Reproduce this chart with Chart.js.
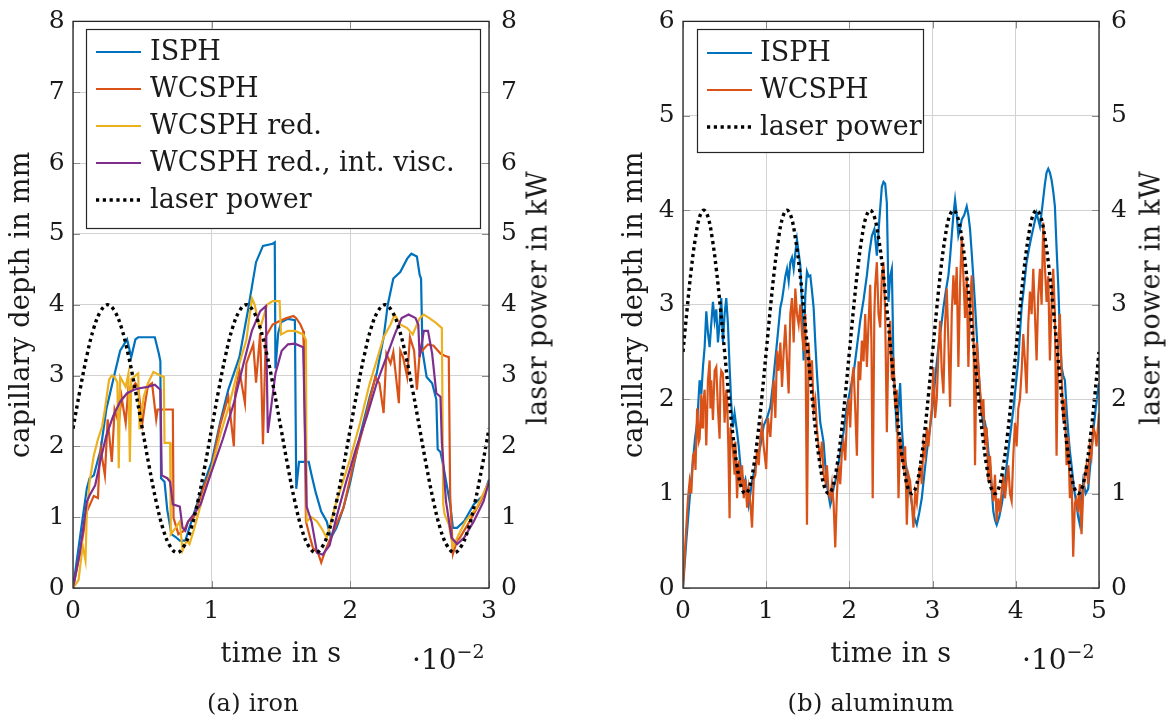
<!DOCTYPE html>
<html><head><meta charset="utf-8">
<script src="https://cdn.jsdelivr.net/npm/chart.js@4.4.1/dist/chart.umd.min.js"></script>
<style>
html,body{margin:0;padding:0;background:#fff;}
body{width:1174px;height:722px;position:relative;overflow:hidden;font-family:"DejaVu Serif",serif;color:#1a1a1a;}
.cv{position:absolute;top:0;height:722px;}
.txt{position:absolute;white-space:nowrap;letter-spacing:0.3px;font-size:27px;line-height:1;transform:translate(-50%,-50%);}
.rot{transform:translate(-50%,-50%) rotate(-90deg);}
.sc{position:absolute;white-space:nowrap;font-size:28px;line-height:1;}
.sc sup{font-size:19px;line-height:0;vertical-align:0.6em;}
</style></head><body>
<div class="cv" style="left:0;width:587px;"><canvas id="ca"></canvas></div>
<div class="cv" style="left:590px;width:584px;"><canvas id="cb"></canvas></div>
<div class="txt rot" style="left:537px;top:298px;">laser power in kW</div>
<div class="txt rot" style="left:1150px;top:298px;">laser power in kW</div>
<div class="sc" style="left:412px;top:646px;">·10<sup>−2</sup></div>
<div class="sc" style="left:1022px;top:646px;">·10<sup>−2</sup></div>
<div class="txt" style="left:253px;top:703px;font-size:24px;">(a) iron</div>
<div class="txt" style="left:871px;top:703px;font-size:24px;">(b) aluminum</div>
<script>
// ---------- data (time in 1e-2 s, depth in mm, power in kW) ----------
const seriesNames = ['ISPH', 'WCSPH', 'WCSPH red.', 'WCSPH red., int. visc.', 'laser power'];
const ironTicksX = [0, 1, 2, 3];
const alTicksX = [0, 1, 2, 3, 4, 5];

const ironISPH = [[0,0],[0.05,0.71],[0.1,1.41],[0.12,1.55],[0.15,1.59],[0.2,1.96],[0.24,2.52],[0.29,2.94],[0.34,3.35],[0.39,3.51],[0.42,3.26],[0.45,3.51],[0.47,3.54],[0.59,3.54],[0.62,3.3],[0.63,3.2],[0.635,1.55],[0.66,1.5],[0.68,1.1],[0.71,0.76],[0.74,0.72],[0.77,0.67],[0.81,0.67],[0.87,1.04],[0.94,1.45],[1.0,1.78],[1.06,2.33],[1.12,2.8],[1.2,3.26],[1.26,3.9],[1.32,4.6],[1.37,4.83],[1.44,4.86],[1.455,4.88],[1.46,3.1],[1.48,3.6],[1.5,3.75],[1.55,3.8],[1.6,3.78],[1.61,1.4],[1.63,1.78],[1.7,1.78],[1.72,1.6],[1.75,1.35],[1.79,1.08],[1.83,0.94],[1.86,0.71],[1.9,0.85],[1.95,1.13],[2.0,1.5],[2.07,2.15],[2.14,2.7],[2.19,3.03],[2.24,3.54],[2.27,4.0],[2.31,4.37],[2.36,4.46],[2.41,4.65],[2.44,4.72],[2.48,4.68],[2.5,4.42],[2.51,4.37],[2.52,3.35],[2.55,2.98],[2.59,2.89],[2.62,2.66],[2.63,1.96],[2.65,1.92],[2.67,1.73],[2.72,1.18],[2.74,0.85],[2.77,0.85],[2.82,0.94],[2.89,1.18],[2.96,1.31],[3.0,1.53]];

const ironWCSPH = [[0,0],[0.05,0.48],[0.1,1.08],[0.15,1.3],[0.18,1.27],[0.19,1.75],[0.2,1.96],[0.23,1.59],[0.25,2.38],[0.28,1.78],[0.3,2.52],[0.33,2.33],[0.35,2.7],[0.38,2.33],[0.4,2.84],[0.42,2.8],[0.45,2.89],[0.47,2.84],[0.5,2.33],[0.52,2.61],[0.54,2.85],[0.57,2.89],[0.6,2.38],[0.61,2.52],[0.65,2.52],[0.72,2.52],[0.725,0.99],[0.76,0.76],[0.8,0.81],[0.83,0.94],[0.87,0.99],[0.94,1.41],[1.0,1.69],[1.06,2.29],[1.12,2.7],[1.16,2.0],[1.17,2.75],[1.2,3.07],[1.24,2.61],[1.25,3.17],[1.3,3.44],[1.32,2.9],[1.35,3.6],[1.37,2.03],[1.39,3.55],[1.44,3.72],[1.49,3.77],[1.54,3.81],[1.59,3.84],[1.61,3.81],[1.64,3.72],[1.66,3.63],[1.665,3.35],[1.68,0.94],[1.71,0.71],[1.73,0.57],[1.77,0.48],[1.79,0.36],[1.82,0.53],[1.85,0.67],[1.95,1.13],[2.02,1.73],[2.09,2.24],[2.14,2.65],[2.18,2.98],[2.21,2.89],[2.24,2.47],[2.26,3.31],[2.29,3.17],[2.31,3.33],[2.35,2.61],[2.36,3.35],[2.38,3.26],[2.41,2.98],[2.43,3.54],[2.46,3.35],[2.48,2.8],[2.5,3.31],[2.54,3.4],[2.56,3.44],[2.6,3.42],[2.65,3.31],[2.68,3.28],[2.71,3.26],[2.72,1.31],[2.74,0.48],[2.77,0.67],[2.79,0.71],[2.86,0.94],[2.94,1.22],[3.0,1.5]];

const ironWCSPHred = [[0,0],[0.04,0.11],[0.07,0.6],[0.09,0.39],[0.1,1.08],[0.12,1.5],[0.15,1.87],[0.18,2.1],[0.21,2.28],[0.23,2.52],[0.26,2.94],[0.28,3.0],[0.3,2.98],[0.32,2.9],[0.33,1.69],[0.34,2.98],[0.38,2.84],[0.4,3.03],[0.41,1.78],[0.42,2.95],[0.44,2.98],[0.47,3.03],[0.48,2.24],[0.51,2.7],[0.54,2.89],[0.58,3.05],[0.63,3.0],[0.655,2.98],[0.66,2.05],[0.7,2.05],[0.705,0.76],[0.74,0.85],[0.77,0.94],[0.79,0.53],[0.82,0.67],[0.84,0.62],[0.87,0.81],[0.94,1.31],[1.0,1.69],[1.06,2.15],[1.13,2.61],[1.2,3.17],[1.25,3.5],[1.29,4.09],[1.31,4.0],[1.34,3.72],[1.35,3.67],[1.4,4.0],[1.44,4.05],[1.49,4.05],[1.5,3.58],[1.55,3.63],[1.6,3.63],[1.66,3.58],[1.68,3.5],[1.685,0.94],[1.72,1.0],[1.76,0.94],[1.79,0.85],[1.83,0.71],[1.9,1.22],[2.0,1.83],[2.07,2.33],[2.14,2.89],[2.19,3.21],[2.24,3.54],[2.29,3.72],[2.32,3.86],[2.36,3.72],[2.41,3.67],[2.45,3.58],[2.5,3.81],[2.53,3.86],[2.57,3.81],[2.62,3.74],[2.66,3.67],[2.67,1.18],[2.68,1.04],[2.71,0.9],[2.74,0.57],[2.78,0.75],[2.83,0.94],[2.91,1.13],[3.0,1.5]];

const ironWCSPHvisc = [[0,0],[0.05,0.51],[0.1,1.22],[0.12,1.31],[0.16,1.45],[0.2,1.82],[0.24,2.15],[0.29,2.43],[0.34,2.63],[0.39,2.75],[0.44,2.8],[0.48,2.82],[0.54,2.84],[0.59,2.87],[0.63,2.8],[0.64,1.59],[0.68,1.55],[0.7,1.5],[0.72,1.18],[0.77,1.15],[0.79,0.85],[0.81,0.81],[0.83,0.94],[0.87,1.04],[0.92,1.18],[0.99,1.59],[1.08,2.1],[1.16,2.61],[1.23,3.17],[1.29,3.63],[1.35,3.91],[1.39,3.98],[1.405,2.19],[1.46,3.03],[1.505,3.35],[1.55,3.44],[1.6,3.45],[1.66,3.4],[1.685,1.15],[1.72,0.94],[1.76,0.5],[1.8,0.47],[1.85,0.6],[1.9,1.0],[1.97,1.5],[2.04,1.96],[2.12,2.43],[2.19,2.89],[2.26,3.26],[2.32,3.58],[2.37,3.81],[2.42,3.86],[2.47,3.81],[2.49,3.72],[2.5,3.26],[2.53,3.63],[2.56,3.63],[2.59,3.31],[2.62,2.75],[2.65,2.7],[2.66,2.06],[2.69,1.22],[2.73,0.71],[2.77,0.62],[2.82,0.71],[2.89,0.94],[2.96,1.22],[3.0,1.5]];

// laser power sampled every 0.05e-2 s
const ironLaserStep = 0.05;
const ironLaser = [2.25,2.79,3.28,3.67,3.91,4.0,3.91,3.67,3.28,2.79,2.25,1.71,1.22,0.83,0.59,0.5,0.59,0.83,1.22,1.71,
 2.25,2.79,3.28,3.67,3.91,4.0,3.91,3.67,3.28,2.79,2.25,1.71,1.22,0.83,0.59,0.5,0.59,0.83,1.22,1.71,
 2.25,2.79,3.28,3.67,3.91,4.0,3.91,3.67,3.28,2.79,2.25,1.71,1.22,0.83,0.59,0.5,0.59,0.83,1.22,1.71,2.25];

const alISPH = [[0,0],[0.04,0.5],[0.084,0.99],[0.11,1.25],[0.144,1.58],[0.17,1.75],[0.2,2.2],[0.22,2.05],[0.24,2.34],[0.26,2.55],[0.28,2.93],[0.3,2.7],[0.32,2.55],[0.34,2.8],[0.36,3.03],[0.38,2.83],[0.4,2.95],[0.42,2.6],[0.44,2.8],[0.46,3.07],[0.48,2.6],[0.5,2.9],[0.52,3.07],[0.54,2.8],[0.56,2.34],[0.58,1.95],[0.6,1.7],[0.62,1.85],[0.65,1.65],[0.67,1.5],[0.69,1.3],[0.71,1.2],[0.73,1.09],[0.75,1.15],[0.77,1.02],[0.79,0.88],[0.81,1.0],[0.83,1.13],[0.86,1.25],[0.89,1.37],[0.93,1.5],[0.97,1.72],[1.01,1.8],[1.05,1.92],[1.08,2.15],[1.1,2.34],[1.13,2.6],[1.17,2.97],[1.19,3.05],[1.21,3.17],[1.23,3.3],[1.25,3.38],[1.27,3.25],[1.29,3.45],[1.31,3.5],[1.33,3.38],[1.35,3.55],[1.37,3.69],[1.39,3.55],[1.41,3.42],[1.43,3.0],[1.45,2.41],[1.47,3.1],[1.49,3.35],[1.51,3.3],[1.53,3.31],[1.55,3.15],[1.57,2.97],[1.59,2.6],[1.61,2.27],[1.63,2.0],[1.65,1.75],[1.67,1.65],[1.69,1.54],[1.71,1.3],[1.73,1.09],[1.75,0.98],[1.77,0.88],[1.79,0.95],[1.81,1.06],[1.85,1.2],[1.89,1.44],[1.93,1.65],[1.97,1.92],[2.01,2.1],[2.05,2.27],[2.09,2.55],[2.13,2.83],[2.17,3.05],[2.21,3.31],[2.24,3.55],[2.27,3.73],[2.3,3.8],[2.33,3.52],[2.36,3.9],[2.39,4.25],[2.41,4.3],[2.43,4.28],[2.45,4.08],[2.46,3.6],[2.47,3.03],[2.49,3.3],[2.51,3.38],[2.52,2.9],[2.53,2.34],[2.55,2.0],[2.57,1.65],[2.59,1.9],[2.61,2.17],[2.63,1.7],[2.65,1.44],[2.68,1.3],[2.71,1.13],[2.74,0.95],[2.77,0.78],[2.79,0.72],[2.81,0.67],[2.84,0.8],[2.87,0.95],[2.9,1.2],[2.93,1.44],[2.97,1.7],[3.01,2.0],[3.04,2.3],[3.07,2.55],[3.1,2.75],[3.13,2.97],[3.16,3.15],[3.19,3.31],[3.21,3.5],[3.23,3.73],[3.25,3.95],[3.27,4.11],[3.29,3.95],[3.31,3.73],[3.33,3.8],[3.35,3.9],[3.38,3.95],[3.41,4.04],[3.43,3.95],[3.45,3.8],[3.47,3.55],[3.49,3.28],[3.51,3.0],[3.53,2.69],[3.55,2.35],[3.57,2.06],[3.59,1.85],[3.61,1.72],[3.63,1.75],[3.65,1.65],[3.67,1.45],[3.69,1.3],[3.71,1.05],[3.73,0.81],[3.75,0.72],[3.77,0.67],[3.8,0.75],[3.83,0.88],[3.86,1.05],[3.89,1.3],[3.93,1.6],[3.97,1.89],[4.0,2.15],[4.03,2.41],[4.05,2.7],[4.07,2.97],[4.1,3.2],[4.13,3.45],[4.16,3.6],[4.19,3.73],[4.22,3.85],[4.25,3.97],[4.27,3.9],[4.29,3.83],[4.32,4.05],[4.35,4.28],[4.37,4.4],[4.39,4.44],[4.41,4.4],[4.43,4.32],[4.45,4.2],[4.47,4.04],[4.49,3.6],[4.51,3.21],[4.53,2.7],[4.55,2.34],[4.57,2.25],[4.59,2.2],[4.61,1.9],[4.63,1.65],[4.65,1.45],[4.67,1.3],[4.7,1.05],[4.73,0.88],[4.75,0.75],[4.77,0.67],[4.79,0.9],[4.81,1.13],[4.84,1.0],[4.87,1.05],[4.9,1.35],[4.93,1.65],[4.96,1.9],[5.0,2.17]];

const alWCSPH = [[0,0],[0.03,0.5],[0.06,0.95],[0.08,1.13],[0.1,1.0],[0.12,1.4],[0.14,1.44],[0.15,1.25],[0.17,1.9],[0.19,1.55],[0.2,1.58],[0.22,2.05],[0.23,1.7],[0.24,1.92],[0.26,2.1],[0.28,1.51],[0.3,2.2],[0.32,2.41],[0.33,1.9],[0.34,2.2],[0.36,1.78],[0.38,2.3],[0.4,2.34],[0.42,1.9],[0.44,1.58],[0.45,2.2],[0.46,2.3],[0.48,2.27],[0.5,1.75],[0.52,2.1],[0.53,2.0],[0.545,1.5],[0.56,0.74],[0.57,1.7],[0.58,1.6],[0.6,1.47],[0.62,1.2],[0.63,1.55],[0.65,0.95],[0.67,1.35],[0.69,1.1],[0.71,1.3],[0.73,0.95],[0.75,1.15],[0.77,0.85],[0.79,1.05],[0.81,0.9],[0.83,0.64],[0.85,1.15],[0.87,1.2],[0.89,1.47],[0.91,1.3],[0.93,1.6],[0.95,1.72],[0.97,1.5],[1.0,1.26],[1.02,1.8],[1.05,1.6],[1.07,1.92],[1.09,2.2],[1.11,1.8],[1.13,2.51],[1.15,2.3],[1.17,2.6],[1.19,2.13],[1.21,2.5],[1.23,2.79],[1.25,2.4],[1.27,2.06],[1.29,2.9],[1.31,3.07],[1.33,2.6],[1.35,3.17],[1.37,2.9],[1.39,2.79],[1.41,3.0],[1.43,2.7],[1.45,2.51],[1.47,2.9],[1.49,0.67],[1.51,2.6],[1.53,2.2],[1.55,2.41],[1.57,1.9],[1.59,2.0],[1.61,1.68],[1.63,1.5],[1.65,1.37],[1.67,1.55],[1.69,1.2],[1.71,1.13],[1.73,1.3],[1.75,1.0],[1.77,0.95],[1.79,1.1],[1.81,0.9],[1.83,0.43],[1.85,1.0],[1.87,1.3],[1.89,1.1],[1.91,1.45],[1.93,1.54],[1.95,1.35],[1.97,1.8],[1.99,2.0],[2.01,1.7],[2.03,2.2],[2.05,2.34],[2.07,1.9],[2.09,1.4],[2.11,2.4],[2.13,2.2],[2.15,2.62],[2.17,2.4],[2.19,2.9],[2.21,2.34],[2.23,2.8],[2.25,3.21],[2.265,2.6],[2.28,0.95],[2.3,2.9],[2.31,3.2],[2.33,3.45],[2.35,2.9],[2.37,2.76],[2.39,3.3],[2.41,3.45],[2.43,2.9],[2.45,1.65],[2.47,2.6],[2.49,2.83],[2.51,2.2],[2.53,2.44],[2.55,1.9],[2.57,2.1],[2.59,0.95],[2.61,1.6],[2.63,1.4],[2.65,1.3],[2.67,1.5],[2.69,0.67],[2.71,1.2],[2.73,1.13],[2.75,0.9],[2.77,0.64],[2.79,1.0],[2.81,0.9],[2.83,1.13],[2.85,1.3],[2.87,1.1],[2.89,1.51],[2.91,1.4],[2.93,1.7],[2.95,1.5],[2.97,1.72],[2.99,1.9],[3.01,2.34],[3.03,1.8],[3.05,2.0],[3.07,2.5],[3.09,2.83],[3.11,2.3],[3.13,2.06],[3.15,2.8],[3.17,3.17],[3.19,2.6],[3.21,1.92],[3.23,2.9],[3.25,3.31],[3.27,3.0],[3.29,3.4],[3.31,2.34],[3.33,3.2],[3.35,3.73],[3.37,3.3],[3.39,2.86],[3.41,3.3],[3.43,2.34],[3.45,3.0],[3.47,3.31],[3.49,2.8],[3.51,1.3],[3.53,2.6],[3.55,2.34],[3.57,2.1],[3.59,1.82],[3.61,2.0],[3.63,1.51],[3.65,1.7],[3.67,1.13],[3.69,1.4],[3.71,1.1],[3.73,0.92],[3.75,1.2],[3.77,0.7],[3.79,0.95],[3.81,0.8],[3.83,1.02],[3.85,1.2],[3.87,0.95],[3.89,1.13],[3.91,1.3],[3.93,1.0],[3.95,0.92],[3.97,1.4],[3.99,1.75],[4.01,1.5],[4.03,1.9],[4.05,2.0],[4.07,2.3],[4.09,2.69],[4.11,2.4],[4.13,2.06],[4.15,2.8],[4.17,3.14],[4.19,2.9],[4.21,3.38],[4.23,2.9],[4.25,2.41],[4.27,3.1],[4.29,3.38],[4.31,3.0],[4.33,3.87],[4.35,3.4],[4.37,3.03],[4.39,3.3],[4.41,2.41],[4.43,3.0],[4.45,3.38],[4.47,2.9],[4.49,1.4],[4.51,2.6],[4.53,2.9],[4.55,2.3],[4.57,1.78],[4.59,2.0],[4.61,1.3],[4.63,1.6],[4.65,0.95],[4.67,1.2],[4.69,0.33],[4.71,0.9],[4.73,0.95],[4.75,0.8],[4.77,1.1],[4.79,0.57],[4.81,1.0],[4.83,1.2],[4.85,1.3],[4.87,1.1],[4.89,1.5],[4.91,1.4],[4.93,1.7],[4.95,1.65],[4.97,1.5],[5.0,1.85]];

const alLaserStep = 0.05;
const alLaser = [2.5,2.96,3.38,3.71,3.93,4.0,3.93,3.71,3.38,2.96,2.5,2.04,1.62,1.29,1.07,1.0,1.07,1.29,1.62,2.04,
 2.5,2.96,3.38,3.71,3.93,4.0,3.93,3.71,3.38,2.96,2.5,2.04,1.62,1.29,1.07,1.0,1.07,1.29,1.62,2.04,
 2.5,2.96,3.38,3.71,3.93,4.0,3.93,3.71,3.38,2.96,2.5,2.04,1.62,1.29,1.07,1.0,1.07,1.29,1.62,2.04,
 2.5,2.96,3.38,3.71,3.93,4.0,3.93,3.71,3.38,2.96,2.5,2.04,1.62,1.29,1.07,1.0,1.07,1.29,1.62,2.04,
 2.5,2.96,3.38,3.71,3.93,4.0,3.93,3.71,3.38,2.96,2.5,2.04,1.62,1.29,1.07,1.0,1.07,1.29,1.62,2.04,2.5];

const colors = ['#0072BD', '#D95319', '#EDB120', '#7E2F8E', '#000000'];

// ---------- helpers ----------
const FONT = '"DejaVu Serif", serif';
const pts = arr => arr.map(p => ({x: p[0], y: p[1]}));
const stepPts = (vals, step) => vals.map((v, i) => ({x: +(i * step).toFixed(4), y: v}));

function lineDs(label, data, color, order) {
  return {label, data, borderColor: color, backgroundColor: color, borderWidth: 2.2,
    pointRadius: 0, tension: 0, fill: false, order, yAxisID: 'y'};
}
function laserDs(data) {
  return {label: seriesNames[4], data, borderColor: '#000', backgroundColor: '#000', borderWidth: 3.4,
    borderDash: [3.2, 3.6], borderCapStyle: 'butt', pointRadius: 0, tension: 0.4, fill: false, order: 0, yAxisID: 'y2'};
}

const framePlugin = {
  id: 'frameLegend',
  beforeDraw(chart) { chart.ctx.letterSpacing = '0.3px'; },
  afterDatasetsDraw(chart, args, o) {
    const {ctx, chartArea: a, scales} = chart;
    ctx.save();
    ctx.letterSpacing = '0px';
    ctx.strokeStyle = '#8a8a8a'; ctx.lineWidth = 1;
    ctx.beginPath();
    scales.y.ticks.forEach(t => {
      const yy = Math.round(scales.y.getPixelForValue(t.value)) + 0.5;
      ctx.moveTo(a.left, yy); ctx.lineTo(a.left + 7, yy);
      ctx.moveTo(a.right, yy); ctx.lineTo(a.right - 7, yy);
    });
    scales.x.ticks.forEach(t => {
      const xx = Math.round(scales.x.getPixelForValue(t.value)) + 0.5;
      ctx.moveTo(xx, a.bottom); ctx.lineTo(xx, a.bottom - 7);
      ctx.moveTo(xx, a.top); ctx.lineTo(xx, a.top + 7);
    });
    ctx.stroke();
    ctx.strokeStyle = '#262626'; ctx.lineWidth = 1.3;
    ctx.strokeRect(a.left, a.top, a.right - a.left, a.bottom - a.top);
    // legend box
    ctx.fillStyle = '#fff';
    ctx.fillRect(o.x, o.y, o.w, o.h);
    ctx.strokeStyle = '#262626'; ctx.lineWidth = 1.2;
    ctx.strokeRect(o.x + 0.5, o.y + 0.5, o.w, o.h);
    ctx.font = '27px ' + FONT;
    ctx.letterSpacing = '0px';
    ctx.textBaseline = 'middle';
    ctx.textAlign = 'left';
    chart.data.datasets.forEach((ds, i) => {
      const yy = o.row0 + i * o.dy;
      ctx.save();
      ctx.strokeStyle = ds.borderColor;
      ctx.lineWidth = ds.borderWidth;
      ctx.setLineDash(ds.borderDash || []);
      ctx.lineCap = 'butt';
      ctx.beginPath(); ctx.moveTo(o.sx0, yy); ctx.lineTo(o.sx1, yy); ctx.stroke();
      ctx.restore();
      ctx.fillStyle = '#1a1a1a';
      ctx.fillText(ds.label, o.tx, yy + 1);
    });
    ctx.restore();
  }
};

function makeChart(id, datasets, xMax, yMax, dims, legend) {
  const tickFont = {family: FONT, size: 25, lineHeight: 0.75};
  return new Chart(document.getElementById(id), {
    type: 'line',
    data: {datasets},
    plugins: [framePlugin],
    options: {
      responsive: true, maintainAspectRatio: false, animation: false,
      layout: {padding: {top: 12, left: 0, right: 0, bottom: 0}},
      plugins: {legend: {display: false}, tooltip: {enabled: false}, frameLegend: legend},
      scales: {
        x: {type: 'linear', min: 0, max: xMax, position: 'bottom',
          ticks: {stepSize: 1, font: tickFont, color: '#1a1a1a', padding: 14, maxRotation: 0},
          grid: {color: '#d2d2d2', lineWidth: 1, drawTicks: false},
          border: {display: false},
          title: {display: true, text: 'time in s', font: {family: FONT, size: 27}, color: '#1a1a1a', padding: {top: 0, bottom: 51}},
          afterFit: s => { s.height = dims.xh; }},
        y: {type: 'linear', min: 0, max: yMax, position: 'left',
          ticks: {stepSize: 1, font: tickFont, color: '#1a1a1a', padding: 8},
          grid: {color: '#d2d2d2', lineWidth: 1, drawTicks: false},
          border: {display: false},
          title: {display: true, text: 'capillary depth in mm', font: {family: FONT, size: 27}, color: '#1a1a1a', padding: {top: dims.tp, bottom: 0}},
          afterFit: s => { s.width = dims.yl; }},
        y2: {type: 'linear', min: 0, max: yMax, position: 'right',
          ticks: {stepSize: 1, font: tickFont, color: '#1a1a1a', padding: 12},
          grid: {display: false, drawTicks: false},
          border: {display: false},
          afterFit: s => { s.width = dims.yr; }}
      }
    }
  });
}

makeChart('ca', [
  lineDs(seriesNames[0], pts(ironISPH), colors[0], 5),
  lineDs(seriesNames[1], pts(ironWCSPH), colors[1], 4),
  lineDs(seriesNames[2], pts(ironWCSPHred), colors[2], 3),
  lineDs(seriesNames[3], pts(ironWCSPHvisc), colors[3], 2),
  laserDs(stepPts(ironLaser, ironLaserStep))
], 3, 8, {xh: 134, yl: 73, yr: 98, tp: 6},
  {x: 86, y: 29, w: 394, h: 199, row0: 52, dy: 37, sx0: 96, sx1: 141, tx: 150});

makeChart('cb', [
  lineDs(seriesNames[0], pts(alISPH), colors[0], 5),
  lineDs(seriesNames[1], pts(alWCSPH), colors[1], 4),
  laserDs(stepPts(alLaser, alLaserStep))
], 5, 6, {xh: 134, yl: 93, yr: 75, tp: 29},
  {x: 107, y: 29, w: 226, h: 123, row0: 53, dy: 37, sx0: 117, sx1: 162, tx: 170});
</script>
</body></html>
